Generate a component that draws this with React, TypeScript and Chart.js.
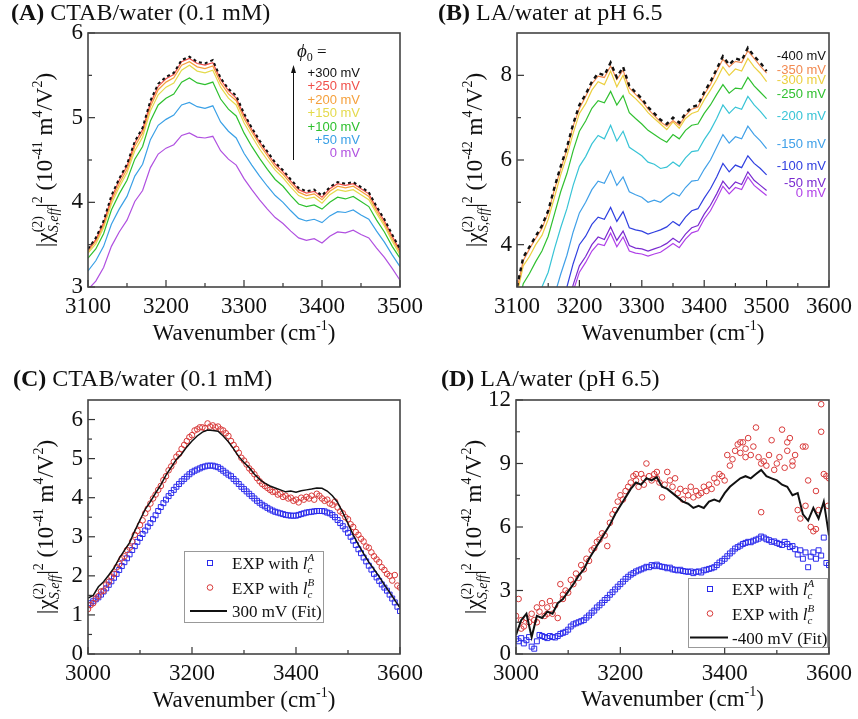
import React, { useEffect, useRef } from 'react';
import { Chart, registerables } from 'chart.js';
Chart.register(...registerables);

const SERIF = '"Liberation Serif", "Times New Roman", Times, serif';
const SANS = '"Liberation Sans", Arial, Helvetica, sans-serif';

// ---------- Panel A: CTAB/water, curves vs wavenumber ----------
const wnAB = [3100,3110,3120,3130,3140,3150,3160,3170,3180,3190,3200,3210,3220,3230,3240,3250,3260,3270,3280,3290,3300,3310,3320,3330,3340,3350,3360,3370,3380,3390,3400,3410,3420,3430,3440,3450,3460,3470,3480,3490,3500];
const aMv300 = [3.45,3.58,3.78,4.08,4.28,4.45,4.72,4.88,5.20,5.40,5.48,5.53,5.68,5.72,5.66,5.64,5.68,5.47,5.34,5.26,5.05,4.88,4.73,4.60,4.47,4.38,4.27,4.17,4.13,4.15,4.08,4.18,4.24,4.22,4.24,4.18,4.12,3.95,3.80,3.62,3.45];
const aMv250 = [3.44,3.56,3.76,4.05,4.26,4.43,4.70,4.86,5.17,5.37,5.46,5.51,5.66,5.70,5.64,5.62,5.65,5.45,5.32,5.23,5.03,4.86,4.71,4.58,4.45,4.36,4.25,4.15,4.11,4.13,4.06,4.16,4.22,4.20,4.22,4.16,4.10,3.93,3.78,3.60,3.43];
const aMv200 = [3.42,3.54,3.73,4.02,4.22,4.39,4.66,4.82,5.13,5.33,5.42,5.47,5.62,5.66,5.60,5.58,5.61,5.41,5.28,5.20,4.99,4.83,4.68,4.55,4.42,4.33,4.22,4.12,4.08,4.10,4.03,4.13,4.19,4.17,4.19,4.13,4.07,3.90,3.75,3.57,3.41];
const aMv150 = [3.40,3.51,3.70,3.98,4.18,4.35,4.61,4.77,5.08,5.27,5.36,5.41,5.56,5.62,5.55,5.53,5.56,5.36,5.23,5.15,4.94,4.78,4.63,4.50,4.38,4.29,4.18,4.08,4.04,4.06,3.99,4.09,4.15,4.13,4.15,4.09,4.03,3.87,3.72,3.54,3.38];
const aMv100 = [3.34,3.45,3.63,3.91,4.10,4.26,4.51,4.66,4.96,5.15,5.23,5.28,5.42,5.47,5.41,5.39,5.42,5.22,5.10,5.02,4.82,4.66,4.52,4.39,4.27,4.19,4.08,3.98,3.95,3.97,3.92,4.00,4.06,4.04,4.07,4.01,3.95,3.79,3.65,3.48,3.34];
const aMv50 = [3.19,3.31,3.48,3.74,3.92,4.07,4.31,4.45,4.74,4.91,4.98,5.03,5.15,5.18,5.13,5.11,5.14,4.95,4.84,4.76,4.58,4.44,4.31,4.19,4.08,4.00,3.90,3.81,3.78,3.80,3.76,3.84,3.89,3.88,3.91,3.85,3.80,3.66,3.53,3.38,3.24];
const aMv0 = [2.97,3.07,3.23,3.48,3.65,3.79,4.01,4.14,4.41,4.57,4.64,4.68,4.79,4.82,4.77,4.76,4.78,4.61,4.51,4.44,4.28,4.15,4.03,3.92,3.82,3.75,3.66,3.58,3.55,3.57,3.52,3.60,3.65,3.64,3.67,3.62,3.58,3.46,3.35,3.22,3.08];
const aNames = ['+300 mV','+250 mV','+200 mV','+150 mV','+100 mV','+50 mV','0 mV'];
const aColors = ['#111111','#f0504a','#f5a03c','#e4da4c','#2ec02e','#3aa0e6','#b050e0'];
const aXTicks = [3100,3200,3300,3400,3500];
const aXMinor = [3150,3250,3350,3450];
const aYTicks = [3,4,5,6];
const aYMinor = [3.5,4.5,5.5];

// ---------- Panel B: LA/water ----------
const bMv400 = [3.0,3.7,3.95,4.2,4.45,4.8,5.35,5.85,6.3,6.85,7.3,7.55,7.85,8.05,8.0,8.3,7.95,8.2,7.75,7.6,7.45,7.25,7.1,6.95,6.85,7.0,6.88,7.1,7.25,7.3,7.6,7.85,8.15,8.45,8.25,8.4,8.35,8.65,8.45,8.3,8.1];
const bMv350 = [2.95,3.62,3.9,4.15,4.38,4.75,5.3,5.78,6.25,6.8,7.22,7.5,7.8,7.98,7.95,8.22,7.9,8.12,7.7,7.55,7.4,7.2,7.05,6.9,6.8,6.93,6.82,7.05,7.2,7.25,7.55,7.78,8.1,8.38,8.2,8.33,8.3,8.58,8.4,8.22,8.05];
const bMv300 = [2.82,3.5,3.72,4.0,4.22,4.6,5.12,5.65,6.1,6.63,7.1,7.33,7.65,7.85,7.78,8.1,7.73,8.0,7.58,7.45,7.3,7.12,6.98,6.85,6.72,6.9,6.75,6.98,7.1,7.15,7.42,7.65,7.9,8.2,8.0,8.15,8.1,8.4,8.2,8.05,7.85];
const bMv250 = [2.4,3.08,3.32,3.6,3.85,4.2,4.72,5.25,5.68,6.22,6.68,6.92,7.22,7.4,7.35,7.62,7.3,7.52,7.12,6.98,6.85,6.7,6.6,6.5,6.42,6.6,6.5,6.7,6.82,6.85,7.1,7.3,7.55,7.78,7.58,7.7,7.68,7.95,7.75,7.6,7.45];
const bMv200 = [1.55,2.25,2.5,2.75,3.0,3.35,3.9,4.4,4.85,5.4,5.85,6.08,6.38,6.58,6.5,6.82,6.45,6.68,6.3,6.2,6.1,5.95,5.9,5.8,5.83,5.95,5.85,6.05,6.2,6.22,6.48,6.7,6.98,7.3,7.1,7.25,7.2,7.5,7.3,7.15,6.97];
const bMv150 = [0.45,1.15,1.4,1.65,1.9,2.25,2.8,3.3,3.75,4.3,4.75,5.0,5.3,5.5,5.45,5.75,5.4,5.6,5.25,5.18,5.12,5.0,5.05,5.0,5.12,5.22,5.15,5.35,5.5,5.52,5.78,6.0,6.3,6.6,6.4,6.55,6.5,6.8,6.6,6.45,6.27];
const bMv100 = [-0.3,0.4,0.65,0.9,1.15,1.5,2.05,2.55,3.0,3.55,4.0,4.2,4.48,4.65,4.6,4.88,4.55,4.78,4.4,4.35,4.32,4.25,4.3,4.35,4.42,4.55,4.45,4.65,4.8,4.85,5.1,5.32,5.6,5.92,5.72,5.88,5.82,6.1,5.92,5.8,5.65];
const bMv50 = [-0.8,-0.1,0.15,0.4,0.65,1.0,1.55,2.05,2.5,3.05,3.5,3.72,4.0,4.18,4.12,4.42,4.1,4.32,3.98,3.92,3.9,3.85,3.9,3.95,4.03,4.15,4.05,4.25,4.4,4.45,4.72,4.93,5.2,5.5,5.32,5.48,5.42,5.72,5.52,5.4,5.28];
const bMv0 = [-0.95,-0.25,0.0,0.25,0.5,0.85,1.4,1.9,2.35,2.9,3.35,3.58,3.85,4.02,3.98,4.27,3.95,4.18,3.85,3.8,3.78,3.73,3.78,3.82,3.92,4.03,3.93,4.13,4.28,4.33,4.6,4.8,5.08,5.38,5.2,5.35,5.3,5.6,5.4,5.28,5.16];
const bNames = ['-400 mV','-350 mV','-300 mV','-250 mV','-200 mV','-150 mV','-100 mV','-50 mV','0 mV'];
const bColors = ['#111111','#f28a50','#ecd040','#30c030','#38c4d6','#40a0e8','#3040e0','#7a2ad0','#b040e8'];
const bXTicks = [3100,3200,3300,3400,3500,3600];
const bXMinor = [3150,3250,3350,3450,3550];
const bYTicks = [4,6,8];
const bYMinor = [5,7];

// ---------- Panels C & D: wavenumber grid ----------
const wnCD = [3000,3005,3010,3015,3020,3025,3030,3035,3040,3045,3050,3055,3060,3065,3070,3075,3080,3085,3090,3095,3100,3105,3110,3115,3120,3125,3130,3135,3140,3145,3150,3155,3160,3165,3170,3175,3180,3185,3190,3195,3200,3205,3210,3215,3220,3225,3230,3235,3240,3245,3250,3255,3260,3265,3270,3275,3280,3285,3290,3295,3300,3305,3310,3315,3320,3325,3330,3335,3340,3345,3350,3355,3360,3365,3370,3375,3380,3385,3390,3395,3400,3405,3410,3415,3420,3425,3430,3435,3440,3445,3450,3455,3460,3465,3470,3475,3480,3485,3490,3495,3500,3505,3510,3515,3520,3525,3530,3535,3540,3545,3550,3555,3560,3565,3570,3575,3580,3585,3590,3595,3600];
const wnFit = [3000,3010,3020,3030,3040,3050,3060,3070,3080,3090,3100,3110,3120,3130,3140,3150,3160,3170,3180,3190,3200,3210,3220,3230,3240,3250,3260,3270,3280,3290,3300,3310,3320,3330,3340,3350,3360,3370,3380,3390,3400,3410,3420,3430,3440,3450,3460,3470,3480,3490,3500,3510,3520,3530,3540,3550,3560,3570,3580,3590,3600];

// Panel C
const cExpA = [1.25,1.3,1.35,1.4,1.45,1.52,1.6,1.68,1.77,1.86,1.95,2.05,2.15,2.25,2.35,2.45,2.55,2.66,2.76,2.87,2.97,3.07,3.16,3.26,3.35,3.45,3.55,3.66,3.76,3.86,3.95,4.04,4.12,4.2,4.28,4.35,4.42,4.48,4.54,4.6,4.65,4.69,4.72,4.75,4.78,4.8,4.82,4.82,4.82,4.8,4.78,4.74,4.69,4.64,4.59,4.55,4.48,4.42,4.35,4.28,4.22,4.16,4.1,4.04,3.98,3.92,3.87,3.82,3.78,3.74,3.7,3.67,3.64,3.62,3.6,3.58,3.56,3.55,3.54,3.54,3.54,3.56,3.58,3.6,3.62,3.63,3.64,3.65,3.66,3.66,3.66,3.65,3.62,3.6,3.56,3.5,3.43,3.35,3.27,3.19,3.1,3.0,2.9,2.79,2.68,2.58,2.47,2.37,2.26,2.16,2.05,1.96,1.87,1.78,1.7,1.62,1.52,1.42,1.32,1.21,1.1];
const cExpB = [1.15,1.25,1.3,1.42,1.48,1.6,1.62,1.78,1.85,1.98,2.05,2.22,2.3,2.45,2.5,2.66,2.72,2.88,3.05,3.15,3.3,3.42,3.6,3.72,3.85,3.98,4.08,4.2,4.3,4.45,4.55,4.7,4.8,4.92,5.05,5.12,5.25,5.35,5.45,5.55,5.6,5.72,5.75,5.8,5.8,5.78,5.9,5.82,5.85,5.8,5.82,5.75,5.72,5.65,5.58,5.45,5.35,5.25,5.15,5.02,4.95,4.85,4.75,4.68,4.6,4.5,4.42,4.35,4.3,4.25,4.2,4.15,4.15,4.08,4.1,4.02,4.05,3.98,4.0,3.92,3.95,3.88,4.0,3.95,4.02,3.98,4.05,3.95,4.1,4.05,3.98,3.92,3.95,3.85,3.82,3.9,3.75,3.65,3.6,3.5,3.45,3.32,3.25,3.12,3.05,2.95,2.88,2.75,2.72,2.6,2.5,2.42,2.35,2.22,2.15,2.05,2.0,1.88,2.02,1.75,1.7];
const cFit = [1.43,1.5,1.72,1.85,2.02,2.2,2.45,2.65,2.85,3.15,3.43,3.7,3.9,4.12,4.33,4.58,4.78,4.98,5.12,5.3,5.45,5.58,5.68,5.73,5.72,5.7,5.58,5.43,5.25,5.05,4.9,4.77,4.6,4.47,4.37,4.3,4.25,4.2,4.15,4.17,4.14,4.18,4.2,4.22,4.25,4.24,4.17,4.05,3.88,3.62,3.34,3.05,2.8,2.57,2.35,2.17,1.98,1.77,1.58,1.38,1.18];
const cFitName = '300 mV (Fit)';
const cXTicks = [3000,3200,3400,3600];
const cXMinor = [3100,3300,3500];
const cYTicks = [0,1,2,3,4,5,6];
const cYMinor = [0.5,1.5,2.5,3.5,4.5,5.5];

// Panel D
const dExpA = [0.7,0.6,0.75,0.5,0.65,0.8,0.35,0.25,0.6,0.9,0.85,0.8,0.75,0.85,0.8,0.78,0.85,0.95,1.0,1.05,1.15,1.3,1.4,1.45,1.5,1.55,1.6,1.72,1.82,1.95,2.05,2.2,2.3,2.42,2.55,2.65,2.8,2.92,3.05,3.18,3.3,3.42,3.55,3.65,3.75,3.82,3.9,3.95,4.0,4.05,4.12,4.1,4.2,4.15,4.22,4.15,4.12,4.1,4.05,4.08,4.0,3.98,3.95,3.98,3.92,3.9,3.88,3.9,3.82,3.88,3.9,3.85,3.95,3.98,4.02,4.05,4.1,4.2,4.32,4.4,4.5,4.62,4.75,4.85,4.98,5.05,5.12,5.2,5.25,5.3,5.28,5.35,5.4,5.45,5.55,5.5,5.42,5.38,5.3,5.32,5.25,5.2,5.15,5.3,5.2,5.05,5.1,4.95,4.7,4.9,4.5,4.8,4.1,4.6,4.8,4.5,4.9,4.65,5.5,4.3,4.2];
const dExpB = [1.8,2.6,1.6,1.3,1.7,1.5,1.9,1.6,2.2,2.0,2.4,1.8,2.2,2.5,1.9,2.3,1.7,3.3,2.8,3.0,2.9,3.5,3.3,3.8,3.6,4.2,4.0,4.5,4.4,4.9,5.0,5.3,5.4,5.7,5.6,5.1,6.2,6.6,6.8,7.2,7.5,7.3,7.7,7.9,8.1,8.4,8.2,7.9,8.5,8.3,9.0,8.4,8.2,8.5,8.3,8.1,7.4,8.0,8.6,8.2,7.9,8.3,7.6,7.8,7.3,7.7,7.5,7.9,7.4,7.7,7.5,7.6,7.9,7.7,8.0,7.8,8.3,8.1,8.5,8.4,8.2,9.4,8.9,9.2,9.6,9.9,9.5,10.0,9.7,10.2,9.4,9.8,10.7,9.3,6.7,9.1,8.9,9.4,10.1,8.7,9.0,9.3,10.6,8.8,9.6,10.2,9.1,9.4,6.8,6.4,9.8,7.0,8.2,6.0,5.8,7.7,6.8,10.5,8.5,8.4,8.3];
const dExpBExtraWn = [3010,3040,3060,3090,3230,3245,3270,3430,3440,3470,3520,3530,3555,3575,3585,3598];
const dExpBExtraVal = [1.2,1.5,1.9,2.6,8.5,8.0,8.6,10.0,9.3,9.0,10.0,8.9,9.8,5.9,11.8,7.0];
const dFit = [0.9,1.6,1.9,0.8,1.8,1.7,2.0,1.9,2.4,2.6,2.95,3.3,3.7,4.0,4.5,4.9,5.3,5.7,6.1,6.6,7.0,7.4,7.8,8.1,8.0,8.3,8.2,8.35,7.9,7.8,7.6,7.4,7.2,7.1,6.9,7.0,6.9,7.2,7.3,7.2,7.6,7.9,8.1,8.3,8.4,8.3,8.5,8.7,8.4,8.3,8.2,8.0,7.9,7.5,7.6,6.6,6.3,6.9,6.4,7.2,5.6];
const dFitName = '-400 mV (Fit)';
const dXTicks = [3000,3200,3400,3600];
const dXMinor = [3100,3300,3500];
const dYTicks = [0,3,6,9,12];
const dYMinor = [1.5,4.5,7.5,10.5];

const BLUE = '#2b2bec';
const RED = '#d83a3a';

// ---------- helpers ----------
const F = (size: number, style = '') => `${style} ${size}px ${SERIF}`;
type Part = { t: string; f: string; dy?: number; st?: { t: string; f: string; dy: number } };

function drawRich(ctx: CanvasRenderingContext2D, parts: Part[], x: number, y: number, angle: number, align: string, color: string) {
  const ws: number[] = [];
  let total = 0;
  for (const p of parts) {
    ctx.font = p.f;
    let w = ctx.measureText(p.t).width;
    if (p.st) { ctx.font = p.st.f; w = Math.max(w, ctx.measureText(p.st.t).width); }
    ws.push(w); total += w;
  }
  ctx.save();
  ctx.translate(x, y);
  ctx.rotate(angle);
  ctx.fillStyle = color;
  ctx.textBaseline = 'alphabetic';
  ctx.textAlign = 'left';
  let cx = align === 'center' ? -total / 2 : align === 'right' ? -total : 0;
  parts.forEach((p, i) => {
    ctx.font = p.f;
    ctx.fillText(p.t, cx, p.dy || 0);
    if (p.st) { ctx.font = p.st.f; ctx.fillText(p.st.t, cx, p.st.dy); }
    cx += ws[i];
  });
  ctx.restore();
}

const yTitle = (exp: string): Part[] => [
  { t: '|', f: F(23) },
  { t: 'χ', f: F(23) },
  { t: '(2)', f: F(14), dy: -10, st: { t: 'S,eff', f: F(14, 'italic'), dy: 6 } },
  { t: '|', f: F(23) },
  { t: '2', f: F(14), dy: -10 },
  { t: ' (10', f: F(23) },
  { t: exp, f: F(14), dy: -10 },
  { t: ' m', f: F(23) },
  { t: '4', f: F(14), dy: -10 },
  { t: '/V', f: F(23) },
  { t: '2', f: F(14), dy: -10 },
  { t: ')', f: F(23) },
];
const xTitle: Part[] = [
  { t: 'Wavenumber (cm', f: F(23) },
  { t: '-1', f: F(14), dy: -10 },
  { t: ')', f: F(23) },
];
const panelTitle = (tag: string, rest: string): Part[] => [
  { t: tag, f: F(24, 'bold') },
  { t: ' ' + rest, f: F(24) },
];

function decor(spec: any) {
  return {
    id: 'decor',
    afterDraw(chart: any) {
      const ctx: CanvasRenderingContext2D = chart.ctx;
      const a = chart.chartArea;
      const xs = chart.scales.x;
      const ys = chart.scales.y;
      ctx.save();
      ctx.strokeStyle = '#333';
      ctx.lineWidth = 1.2;
      const seg = (x1: number, y1: number, x2: number, y2: number) => {
        ctx.beginPath(); ctx.moveTo(x1, y1); ctx.lineTo(x2, y2); ctx.stroke();
      };
      spec.xMajor.forEach((v: number) => { const x = xs.getPixelForValue(v); seg(x, a.bottom, x, a.bottom - 7); });
      spec.xMinor.forEach((v: number) => { const x = xs.getPixelForValue(v); seg(x, a.bottom, x, a.bottom - 4); });
      spec.yMajor.forEach((v: number) => { const y = ys.getPixelForValue(v); seg(a.left, y, a.left + 7, y); });
      spec.yMinor.forEach((v: number) => { const y = ys.getPixelForValue(v); seg(a.left, y, a.left + 4, y); });
      ctx.strokeStyle = '#444';
      ctx.lineWidth = 1.6;
      ctx.strokeRect(a.left, a.top, a.right - a.left, a.bottom - a.top);
      drawRich(ctx, spec.title, spec.titleX, spec.titleY, 0, 'left', '#111');
      drawRich(ctx, xTitle, (a.left + a.right) / 2, spec.xTitleY, 0, 'center', '#111');
      drawRich(ctx, yTitle(spec.yExp), spec.yTitleX, (a.top + a.bottom) / 2, -Math.PI / 2, 'center', '#111');
      if (spec.extra) spec.extra(ctx, chart);
      ctx.restore();
    },
  };
}

const pts = (xs: number[], ys: number[]) => xs.map((x, i) => ({ x, y: ys[i] }));
const lineDs = (xs: number[], ys: number[], color: string, width: number, dash: number[] = []) => ({
  data: pts(xs, ys), showLine: true, borderColor: color, backgroundColor: color, borderWidth: width,
  borderDash: dash, pointRadius: 0, tension: 0, fill: false,
});
const markDs = (xs: number[], ys: number[], color: string, style: string, r: number) => ({
  data: pts(xs, ys), showLine: false, pointStyle: style, pointRadius: r, borderWidth: 1,
  borderColor: color, backgroundColor: 'rgba(0,0,0,0)', pointBorderColor: color,
  pointBackgroundColor: 'rgba(0,0,0,0)', pointBorderWidth: 1,
});

function axis(min: number, max: number, ticks: number[], isX: boolean, size: number) {
  return {
    type: 'linear', min, max,
    afterBuildTicks: (s: any) => { s.ticks = ticks.map((v) => ({ value: v })); },
    afterFit: (s: any) => { if (isX) s.height = size; else s.width = size; },
    grid: { display: false, drawTicks: false },
    border: { display: false },
    ticks: {
      font: { family: SERIF, size: 23 }, color: '#111', padding: isX ? 6 : 5,
      autoSkip: false, maxRotation: 0, minRotation: 0, callback: (v: any) => String(v),
    },
  };
}

function baseOptions(pad: any, scales: any) {
  return {
    responsive: false, animation: false, devicePixelRatio: 1, events: [],
    layout: { padding: pad },
    plugins: { legend: { display: false }, tooltip: { enabled: false } },
    scales,
  };
}

function drawLegend(ctx: CanvasRenderingContext2D, box: number[], rows: number[], fitName: string, mx: number, lx: number[], tx: number) {
  ctx.save();
  ctx.fillStyle = '#fff';
  ctx.fillRect(box[0], box[1], box[2], box[3]);
  ctx.strokeStyle = '#999';
  ctx.lineWidth = 1;
  ctx.strokeRect(box[0] + 0.5, box[1] + 0.5, box[2], box[3]);
  ctx.strokeStyle = BLUE; ctx.lineWidth = 1;
  ctx.strokeRect(mx - 2.5, rows[0] - 6 - 2.5, 5, 5);
  ctx.strokeStyle = RED;
  ctx.beginPath(); ctx.arc(mx, rows[1] - 6, 2.8, 0, Math.PI * 2); ctx.stroke();
  ctx.strokeStyle = '#111'; ctx.lineWidth = 2;
  ctx.beginPath(); ctx.moveTo(lx[0], rows[2] - 6); ctx.lineTo(lx[1], rows[2] - 6); ctx.stroke();
  const expRow = (sup: string): Part[] => [
    { t: 'EXP with ', f: F(17) },
    { t: 'l', f: F(17, 'italic') },
    { t: sup, f: F(11, 'italic'), dy: -8, st: { t: 'c', f: F(11, 'italic'), dy: 4 } },
  ];
  drawRich(ctx, expRow('A'), tx, rows[0], 0, 'left', '#111');
  drawRich(ctx, expRow('B'), tx, rows[1], 0, 'left', '#111');
  drawRich(ctx, [{ t: fitName, f: F(17) }], tx, rows[2], 0, 'left', '#111');
  ctx.restore();
}

// ---------- chart configs ----------
function makeA() {
  const series = [aMv300, aMv250, aMv200, aMv150, aMv100, aMv50, aMv0];
  const datasets = series.map((s, i) => i === 0 ? lineDs(wnAB, s, '#111', 2, [3, 3]) : lineDs(wnAB, s, aColors[i], 1.2));
  return {
    type: 'scatter',
    data: { datasets },
    options: baseOptions({ left: 0, right: 26, top: 33, bottom: 0 }, {
      x: axis(3100, 3500, aXTicks, true, 63),
      y: axis(3, 6, aYTicks, false, 88),
    }),
    plugins: [decor({
      title: panelTitle('(A)', 'CTAB/water (0.1 mM)'), titleX: 11, titleY: 20,
      xTitleY: 340, yTitleX: 52, yExp: '-41',
      xMajor: aXTicks, xMinor: aXMinor, yMajor: aYTicks, yMinor: aYMinor,
      extra: (ctx: CanvasRenderingContext2D) => {
        drawRich(ctx, [{ t: 'ϕ', f: F(19, 'italic') }, { t: '0', f: F(12), dy: 4 }, { t: ' =', f: F(17) }], 297, 57, 0, 'left', '#111');
        ctx.strokeStyle = '#111'; ctx.fillStyle = '#111'; ctx.lineWidth = 1;
        ctx.beginPath(); ctx.moveTo(293.5, 160); ctx.lineTo(293.5, 72); ctx.stroke();
        ctx.beginPath(); ctx.moveTo(293.5, 65); ctx.lineTo(291, 73); ctx.lineTo(296, 73); ctx.closePath(); ctx.fill();
        const ys = [73, 86.5, 100, 113.5, 127, 140, 153.5];
        ctx.font = `13px ${SANS}`; ctx.textAlign = 'right'; ctx.textBaseline = 'middle';
        aNames.forEach((n, i) => { ctx.fillStyle = aColors[i]; ctx.fillText(n, 360, ys[i]); });
      },
    })],
  };
}

function makeB() {
  const series = [bMv400, bMv350, bMv300, bMv250, bMv200, bMv150, bMv100, bMv50, bMv0];
  const datasets = series.map((s, i) => i === 0 ? lineDs(wnAB, s, '#111', 2.4, [4, 4]) : lineDs(wnAB, s, bColors[i], 1.2));
  return {
    type: 'scatter',
    data: { datasets },
    options: baseOptions({ left: 0, right: 27, top: 33, bottom: 0 }, {
      x: axis(3100, 3600, bXTicks, true, 63),
      y: axis(3, 9, bYTicks, false, 88),
    }),
    plugins: [decor({
      title: panelTitle('(B)', 'LA/water at pH 6.5'), titleX: 9, titleY: 20,
      xTitleY: 340, yTitleX: 53, yExp: '-42',
      xMajor: bXTicks, xMinor: bXMinor, yMajor: bYTicks, yMinor: bYMinor,
      extra: (ctx: CanvasRenderingContext2D) => {
        const ys = [56, 70.5, 80.5, 94.5, 116, 144.5, 166.5, 183, 193];
        ctx.font = `13px ${SANS}`; ctx.textAlign = 'right'; ctx.textBaseline = 'middle';
        bNames.forEach((n, i) => { ctx.fillStyle = bColors[i]; ctx.fillText(n, 397, ys[i]); });
      },
    })],
  };
}

function makeC() {
  const datasets = [
    lineDs(wnFit, cFit, '#111', 1.5),
    markDs(wnCD, cExpB, RED, 'circle', 2.8),
    markDs(wnCD, cExpA, BLUE, 'rect', 3.5),
  ];
  return {
    type: 'scatter',
    data: { datasets },
    options: baseOptions({ left: 0, right: 26, top: 50, bottom: 0 }, {
      x: axis(3000, 3600, cXTicks, true, 65),
      y: axis(0, 6.5, cYTicks, false, 88),
    }),
    plugins: [decor({
      title: panelTitle('(C)', 'CTAB/water (0.1 mM)'), titleX: 13, titleY: 36,
      xTitleY: 357, yTitleX: 53, yExp: '-41',
      xMajor: cXTicks, xMinor: cXMinor, yMajor: cYTicks, yMinor: cYMinor,
      extra: (ctx: CanvasRenderingContext2D) => {
        drawLegend(ctx, [184, 201, 139, 71], [219, 243.5, 267], cFitName, 210, [190, 227], 232);
      },
    })],
  };
}

function makeD() {
  const datasets = [
    lineDs(wnFit, dFit, '#111', 2),
    markDs(wnCD, dExpB, RED, 'circle', 2.8),
    markDs(dExpBExtraWn, dExpBExtraVal, RED, 'circle', 2.8),
    markDs(wnCD, dExpA, BLUE, 'rect', 3.5),
  ];
  return {
    type: 'scatter',
    data: { datasets },
    options: baseOptions({ left: 0, right: 27, top: 50, bottom: 0 }, {
      x: axis(3000, 3600, dXTicks, true, 65),
      y: axis(0, 12, dYTicks, false, 87),
    }),
    plugins: [decor({
      title: panelTitle('(D)', 'LA/water (pH 6.5)'), titleX: 12, titleY: 36,
      xTitleY: 356, yTitleX: 52, yExp: '-42',
      xMajor: dXTicks, xMinor: dXMinor, yMajor: dYTicks, yMinor: dYMinor,
      extra: (ctx: CanvasRenderingContext2D) => {
        drawLegend(ctx, [259, 228, 139, 69], [245, 269.5, 293.5], dFitName, 281, [261, 299], 303);
      },
    })],
  };
}

function Panel({ left, top, width, height, make }: any) {
  const ref = useRef<HTMLCanvasElement>(null);
  useEffect(() => {
    const chart = new Chart(ref.current as HTMLCanvasElement, make());
    return () => chart.destroy();
  }, []);
  return (
    <canvas ref={ref} width={width} height={height}
      style={{ position: 'absolute', left, top, width, height, display: 'block' }} />
  );
}

export default function App() {
  return (
    <div style={{ position: 'absolute', left: 0, top: 0, width: 858, height: 719, background: '#fff', overflow: 'hidden' }}>
      <Panel left={0} top={0} width={429} height={350} make={makeA} />
      <Panel left={429} top={0} width={429} height={350} make={makeB} />
      <Panel left={0} top={350} width={429} height={369} make={makeC} />
      <Panel left={429} top={350} width={429} height={369} make={makeD} />
    </div>
  );
}
